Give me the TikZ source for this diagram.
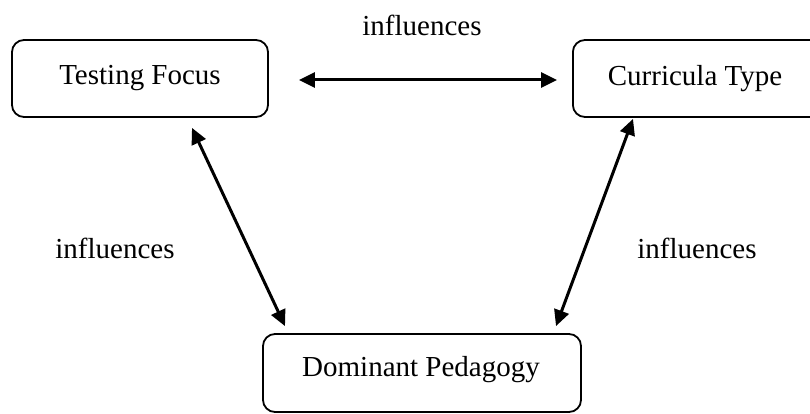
\documentclass[tikz,border=0pt]{standalone}
\usepackage{fontspec}
\setmainfont{Liberation Serif}
\usetikzlibrary{arrows.meta}
\tikzset{
  box/.style={draw, line width=1.8pt, rounded corners=12pt, inner sep=0pt, align=center},
  arr/.style={line width=3pt, {Triangle[length=16pt,width=15pt]}-{Triangle[length=16pt,width=15pt]}},
  lbl/.style={inner sep=0pt, font=\fontsize{29}{34}\selectfont}
}
\begin{document}
\begin{tikzpicture}[x=1pt,y=-1pt]
\useasboundingbox (0,0) rectangle (810,414);
\clip (0,0) rectangle (810,414);
\node[box, minimum width=256pt, minimum height=77pt] (TF) at (140,78.5) {};
\node[lbl] (TFt) at (TF.center) {Testing Focus};
\node[box, minimum width=256pt, minimum height=77pt, anchor=west] (CT) at (572,78.5) {};
\node[lbl] (CTt) at (695,78.5) {Curricula Type};
\node[box, minimum width=318pt, minimum height=78pt] (DP) at (422,373) {};
\node[lbl] (DPt) at (421,370) {Dominant Pedagogy};
\draw[arr] ([xshift=30pt,yshift=-1.5pt]TF.east) -- ([xshift=-15pt,yshift=-1.5pt]CT.west);
\draw[arr] ([xshift=52pt,yshift=-10pt]TF.south) -- ([xshift=-137pt,yshift=7pt]DP.north);
\draw[arr] ([xshift=61pt,yshift=-1pt]CT.south west) -- ([xshift=134pt,yshift=7pt]DP.north);
\node[lbl] (L1) at (422,25) {influences};
\node[lbl] (L2) at (115,248) {influences};
\node[lbl] (L3) at (697,248) {influences};
\end{tikzpicture}
\end{document}
